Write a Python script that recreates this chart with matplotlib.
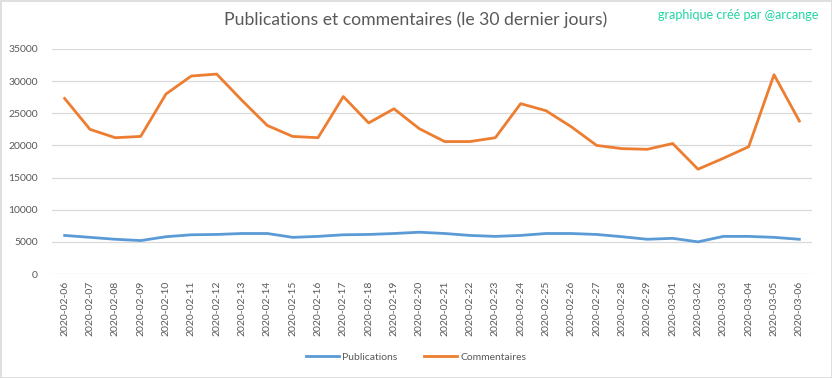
import matplotlib
matplotlib.use("Agg")
import matplotlib.pyplot as plt
from matplotlib.patches import Rectangle

dates = ["2020-02-06","2020-02-07","2020-02-08","2020-02-09","2020-02-10","2020-02-11",
         "2020-02-12","2020-02-13","2020-02-14","2020-02-15","2020-02-16","2020-02-17",
         "2020-02-18","2020-02-19","2020-02-20","2020-02-21","2020-02-22","2020-02-23",
         "2020-02-24","2020-02-25","2020-02-26","2020-02-27","2020-02-28","2020-02-29",
         "2020-03-01","2020-03-02","2020-03-03","2020-03-04","2020-03-05","2020-03-06"]
publications = [6000,5700,5400,5200,5800,6100,6150,6300,6300,5700,5850,6100,6150,6300,6500,
                6300,6000,5850,6000,6300,6300,6150,5800,5400,5550,5000,5850,5850,5700,5400]
commentaires = [27300,22500,21200,21400,28000,30800,31100,27000,23100,21400,21200,27600,
                23500,25700,22600,20600,20600,21200,26500,25400,22900,20000,19500,19400,
                20300,16300,18000,19800,31000,23800]
yticks = [0,5000,10000,15000,20000,25000,30000,35000]

plt.rcParams['font.family'] = ['Lato', 'DejaVu Sans']
gray = '#595959'

fig = plt.figure(figsize=(8.32, 3.78), dpi=100)
ax = fig.add_axes([52/832, 1-274/378, 760/832, 225/378])
x = list(range(len(dates)))
ax.plot(x, publications, color='#5B9BD5', lw=2.0, label='Publications', solid_joinstyle='round')
ax.plot(x, commentaires, color='#ED7D31', lw=2.0, label='Commentaires', solid_joinstyle='round')
ax.set_xlim(-0.5, len(dates)-0.5)
ax.set_ylim(0, 35000)
ax.set_yticks(yticks)
ax.set_yticklabels([str(v) for v in yticks])
ax.set_xticks(x)
ax.set_xticklabels(dates, rotation=90)
ax.tick_params(axis='both', length=0, colors=gray, labelsize=7.5)
ax.tick_params(axis='y', pad=10)
ax.tick_params(axis='x', pad=5)
ax.grid(axis='y', color='#d9d9d9', lw=0.9)
ax.set_axisbelow(True)
for s in ax.spines.values():
    s.set_visible(False)

fig.text(0.5, 1-20/378, "Publications et commentaires (le 30 dernier jours)",
         ha='center', va='center', fontsize=12.7, color=gray)
fig.text(818/832, 1-15/378, "graphique créé par @arcange", ha='right', va='center',
         fontsize=9, color='#1fd6a0')
fig.legend(loc='center', bbox_to_anchor=(0.5, 1-357/378), ncol=2, frameon=False,
           fontsize=7.5, labelcolor=gray, handlelength=3.2, handletextpad=0.3,
           columnspacing=2.5)
fig.patches.append(Rectangle((0.5/832, 0.5/378), 1-1/832, 1-1/378, transform=fig.transFigure,
                             fill=False, edgecolor='#d9d9d9', lw=1.2))
fig.savefig("out.png", dpi=100)
